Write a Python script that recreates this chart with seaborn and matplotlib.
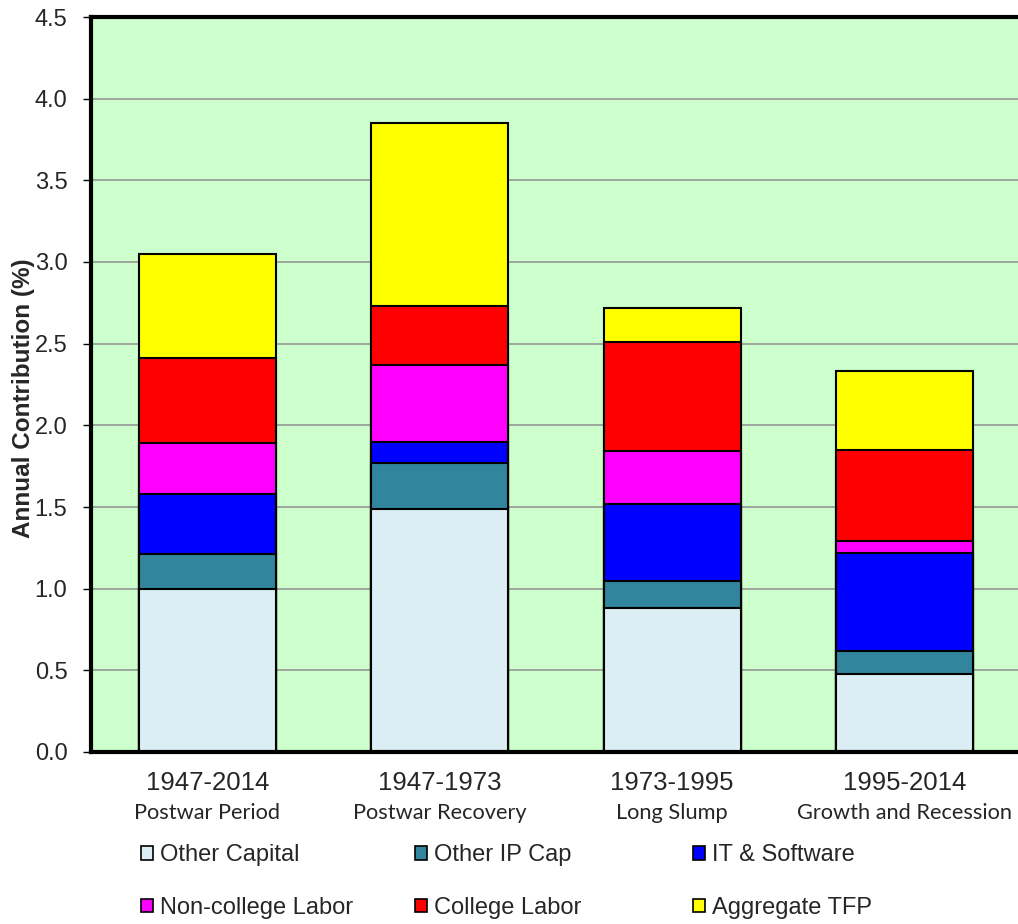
"""
Contribuição anual ao crescimento por período (barras empilhadas).
"""

import matplotlib
matplotlib.use("Agg")
import matplotlib.pyplot as plt
from matplotlib.patches import Patch
import seaborn as sns
import pandas as pd
import numpy as np

periods = ["1947-2014", "1947-1973", "1973-1995", "1995-2014"]
subtitles = ["Postwar Period", "Postwar Recovery", "Long Slump", "Growth and Recession"]

components = ["Other Capital", "Other IP Cap", "IT & Software",
              "Non-college Labor", "College Labor", "Aggregate TFP"]
colors = ["#DAEEF3", "#31859C", "#0000FF", "#FF00FF", "#FF0000", "#FFFF00"]

other_capital = [1.00, 1.49, 0.88, 0.48]
other_ip_cap = [0.21, 0.28, 0.17, 0.14]
it_software = [0.37, 0.13, 0.47, 0.60]
noncollege_labor = [0.31, 0.47, 0.32, 0.07]
college_labor = [0.52, 0.36, 0.67, 0.56]
aggregate_tfp = [0.64, 1.12, 0.21, 0.48]

yticks = [0.0, 0.5, 1.0, 1.5, 2.0, 2.5, 3.0, 3.5, 4.0, 4.5]

df = pd.DataFrame({
    "period": periods,
    "Other Capital": other_capital,
    "Other IP Cap": other_ip_cap,
    "IT & Software": it_software,
    "Non-college Labor": noncollege_labor,
    "College Labor": college_labor,
    "Aggregate TFP": aggregate_tfp,
})
cum = df[components].cumsum(axis=1)
cum["period"] = df["period"]

sns.set_theme(style="white")
plt.rcParams["font.family"] = ["Liberation Sans", "DejaVu Sans"]

fig = plt.figure(figsize=(10.18, 9.24), dpi=100)
ax = fig.add_axes([91 / 1018, 1 - 752 / 924, 930 / 1018, 735 / 924])
ax.set_facecolor("#CCFFCC")

# barras cumulativas, da mais alta para a mais baixa
for comp, col in reversed(list(zip(components, colors))):
    sns.barplot(data=cum, x="period", y=comp, color=col, saturation=1,
                edgecolor="black", linewidth=1.5, width=0.59,
                errorbar=None, ax=ax)

ax.set_xlim(-0.5, 3.5)
ax.set_ylim(0, 4.5)
ax.set_yticks(yticks)
ax.set_yticklabels([f"{v:.1f}" for v in yticks], fontsize=17)
ax.yaxis.grid(True, color="#8f8f8f", lw=1.1)
ax.set_axisbelow(True)
ax.set_xlabel("")
ax.set_ylabel("")

ax.set_xticks(range(len(periods)))
ax.set_xticklabels([""] * len(periods))
ax.set_xticks(np.arange(-0.5, 4, 1), minor=True)
ax.tick_params(axis="x", which="major", length=0)
ax.tick_params(axis="x", which="minor", length=6, width=1, color="black", direction="out")
ax.tick_params(axis="y", length=6, width=1, color="black", direction="out", left=True, pad=11)

for side in ["left", "top", "bottom"]:
    ax.spines[side].set_color("black")
    ax.spines[side].set_linewidth(3)
ax.spines["right"].set_visible(False)

trans = ax.get_xaxis_transform()
for i, (p, s) in enumerate(zip(periods, subtitles)):
    ax.text(i, -0.042, p, transform=trans, ha="center", va="center", fontsize=18.5)
    ax.text(i, -0.083, s, transform=trans, ha="center", va="center", fontsize=15.7,
            family=["Lato", "DejaVu Sans"])

# rótulo do eixo y sobreposto aos números, como no original
fig.text(24 / 1018, 1 - 398 / 924, "Annual Contribution (%)", rotation=90,
         ha="center", va="center", fontsize=17.5, fontweight="bold")

# legenda em três colunas independentes
handles = [Patch(facecolor=c, edgecolor="black", linewidth=1.2) for c in colors]
col_x = [141, 415, 693]
for j, x in enumerate(col_x):
    idx = [j, j + 3]
    leg = fig.legend([handles[k] for k in idx], [components[k] for k in idx],
                     loc="center left", bbox_to_anchor=(x / 1018, 1 - 881.5 / 924),
                     frameon=False, fontsize=17, borderpad=0, borderaxespad=0,
                     handlelength=0.5, handleheight=0.5, handletextpad=0.3,
                     labelspacing=1.3)

fig.savefig("out.png", dpi=100)
